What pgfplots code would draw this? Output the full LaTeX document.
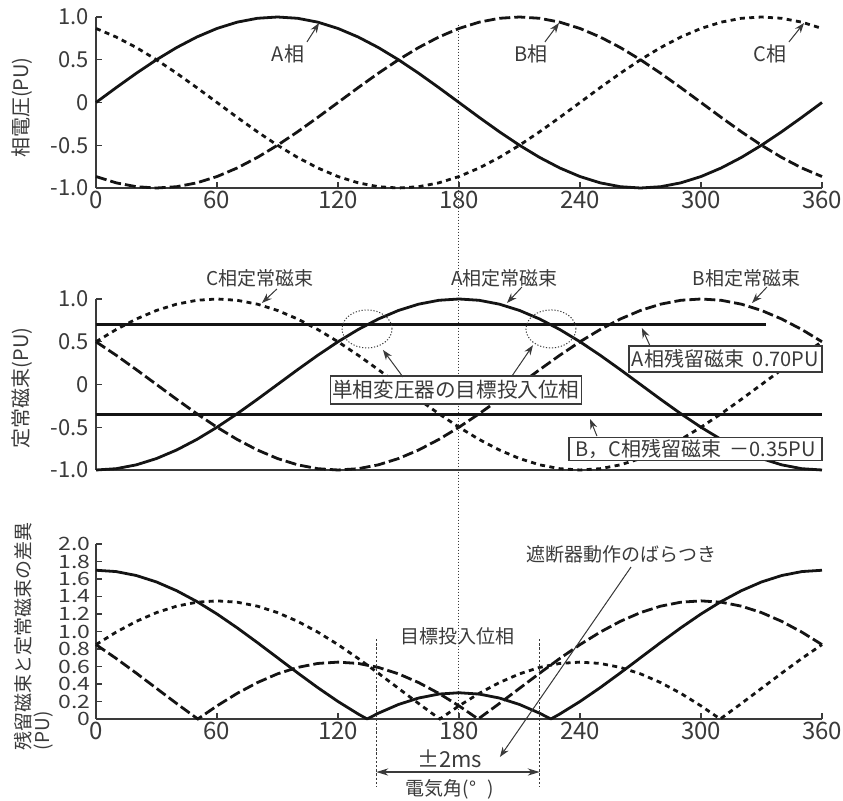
\documentclass[border=0pt]{standalone}
\usepackage{fontspec}
\setmainfont{Noto Sans CJK JP}
\usepackage{pgfplots}
\pgfplotsset{compat=1.18}
\usepackage{pgfplotstable}
\usetikzlibrary{arrows.meta}
\definecolor{txt}{RGB}{58,58,58}
\definecolor{crv}{RGB}{20,20,20}

\pgfplotstableread{
x A B C FA FB FC
0 0 -0.8660 0.8660 -1.0000 0.5000 0.5000
10 0.1736 -0.9397 0.7660 -0.9848 0.3420 0.6428
20 0.3420 -0.9848 0.6428 -0.9397 0.1736 0.7660
30 0.5000 -1.0000 0.5000 -0.8660 0.0000 0.8660
40 0.6428 -0.9848 0.3420 -0.7660 -0.1736 0.9397
50 0.7660 -0.9397 0.1736 -0.6428 -0.3420 0.9848
60 0.8660 -0.8660 0.0000 -0.5000 -0.5000 1.0000
70 0.9397 -0.7660 -0.1736 -0.3420 -0.6428 0.9848
80 0.9848 -0.6428 -0.3420 -0.1736 -0.7660 0.9397
90 1.0000 -0.5000 -0.5000 0.0000 -0.8660 0.8660
100 0.9848 -0.3420 -0.6428 0.1736 -0.9397 0.7660
110 0.9397 -0.1736 -0.7660 0.3420 -0.9848 0.6428
120 0.8660 0.0000 -0.8660 0.5000 -1.0000 0.5000
130 0.7660 0.1736 -0.9397 0.6428 -0.9848 0.3420
140 0.6428 0.3420 -0.9848 0.7660 -0.9397 0.1736
150 0.5000 0.5000 -1.0000 0.8660 -0.8660 0.0000
160 0.3420 0.6428 -0.9848 0.9397 -0.7660 -0.1736
170 0.1736 0.7660 -0.9397 0.9848 -0.6428 -0.3420
180 0.0000 0.8660 -0.8660 1.0000 -0.5000 -0.5000
190 -0.1736 0.9397 -0.7660 0.9848 -0.3420 -0.6428
200 -0.3420 0.9848 -0.6428 0.9397 -0.1736 -0.7660
210 -0.5000 1.0000 -0.5000 0.8660 0.0000 -0.8660
220 -0.6428 0.9848 -0.3420 0.7660 0.1736 -0.9397
230 -0.7660 0.9397 -0.1736 0.6428 0.3420 -0.9848
240 -0.8660 0.8660 0.0000 0.5000 0.5000 -1.0000
250 -0.9397 0.7660 0.1736 0.3420 0.6428 -0.9848
260 -0.9848 0.6428 0.3420 0.1736 0.7660 -0.9397
270 -1.0000 0.5000 0.5000 0.0000 0.8660 -0.8660
280 -0.9848 0.3420 0.6428 -0.1736 0.9397 -0.7660
290 -0.9397 0.1736 0.7660 -0.3420 0.9848 -0.6428
300 -0.8660 0.0000 0.8660 -0.5000 1.0000 -0.5000
310 -0.7660 -0.1736 0.9397 -0.6428 0.9848 -0.3420
320 -0.6428 -0.3420 0.9848 -0.7660 0.9397 -0.1736
330 -0.5000 -0.5000 1.0000 -0.8660 0.8660 0.0000
340 -0.3420 -0.6428 0.9848 -0.9397 0.7660 0.1736
350 -0.1736 -0.7660 0.9397 -0.9848 0.6428 0.3420
360 0.0000 -0.8660 0.8660 -1.0000 0.5000 0.5000
}\wave

\pgfplotstableread{
x y
0 1.7000
10 1.6848
20 1.6397
30 1.5660
40 1.4660
50 1.3428
60 1.2000
70 1.0420
80 0.8736
90 0.7000
100 0.5264
110 0.3580
120 0.2000
130 0.0572
134.43 0
140 0.0660
150 0.1660
160 0.2397
170 0.2848
180 0.3000
190 0.2848
200 0.2397
210 0.1660
220 0.0660
225.57 0
230 0.0572
240 0.2000
250 0.3580
260 0.5264
270 0.7000
280 0.8736
290 1.0420
300 1.2000
310 1.3428
320 1.4660
330 1.5660
340 1.6397
350 1.6848
360 1.7000
}\diffA

\pgfplotstableread{
x y
0 0.8500
10 0.6920
20 0.5236
30 0.3500
40 0.1764
50 0.0080
50.49 0
60 0.1500
70 0.2928
80 0.4160
90 0.5160
100 0.5897
110 0.6348
120 0.6500
130 0.6348
140 0.5897
150 0.5160
160 0.4160
170 0.2928
180 0.1500
189.51 0
190 0.0080
200 0.1764
210 0.3500
220 0.5236
230 0.6920
240 0.8500
250 0.9928
260 1.1160
270 1.2160
280 1.2897
290 1.3348
300 1.3500
310 1.3348
320 1.2897
330 1.2160
340 1.1160
350 0.9928
360 0.8500
}\diffB

\pgfplotstableread{
x y
0 0.8500
10 0.9928
20 1.1160
30 1.2160
40 1.2897
50 1.3348
60 1.3500
70 1.3348
80 1.2897
90 1.2160
100 1.1160
110 0.9928
120 0.8500
130 0.6920
140 0.5236
150 0.3500
160 0.1764
170 0.0080
170.49 0
180 0.1500
190 0.2928
200 0.4160
210 0.5160
220 0.5897
230 0.6348
240 0.6500
250 0.6348
260 0.5897
270 0.5160
280 0.4160
290 0.2928
300 0.1500
309.51 0
310 0.0080
320 0.1764
330 0.3500
340 0.5236
350 0.6920
360 0.8500
}\diffC

\tikzset{
  ann/.style={-{Stealth[length=5pt,width=3.6pt]}, line width=0.5pt, draw=txt, fill=txt},
  lA/.style={crv, line width=1.4pt, line join=round},
  lB/.style={crv, line width=1.4pt, dash pattern=on 5.5pt off 2pt},
  lC/.style={crv, line width=1.4pt, dash pattern=on 2.5pt off 2.2pt},
  lbl/.style={text=txt, font=\fontsize{10}{12}\selectfont, inner sep=1pt},
  box/.style={draw=txt, line width=0.6pt, fill=white, text=txt, inner sep=1pt, font=\fontsize{10}{12}\selectfont},
}
\pgfplotsset{
  panel/.style={
    scale only axis, width=363pt, xmin=0, xmax=360,
    axis lines*=left, axis line style={txt, line width=0.6pt, -},
    tick align=inside, major tick length=3pt,
    tick style={txt, line width=0.6pt},
    xtick={0,60,120,180,240,300,360},
    xticklabels={0,60,120,180,240,300,360},
    xticklabel style={text=txt, font=\fontsize{12}{12}\selectfont, yshift=2pt},
    yticklabel style={text=txt, font=\fontsize{11}{11}\selectfont},
    clip=false,
    ylabel style={text=txt, font=\fontsize{10}{12}\selectfont, anchor=center},
  },
}

\begin{document}
\begin{tikzpicture}
\path[use as bounding box] (0,0) rectangle (421.5pt,-400.5pt);

% ---------- top panel ----------
\begin{axis}[panel, at={(48pt,-94pt)}, anchor=south west, height=85.5pt,
  ymin=-1, ymax=1,
  ytick={-1,-0.5,0,0.5,1}, yticklabels={-1.0,-0.5,0,0.5,1.0},
  ylabel={相電圧(PU)},
  ylabel style={at={(rel axis cs:-0.102,0.47)}},
]
\draw[txt, line width=0.5pt, dash pattern=on 0.6pt off 0.9pt] (axis cs:180,0.91) -- (axis cs:180,-7.21);
\addplot[lA] table[x=x,y=A] {\wave};
\addplot[lB] table[x=x,y=B] {\wave};
\addplot[lC] table[x=x,y=C] {\wave};
\node[lbl] at (axis cs:95.2,0.567) {A相};
\node[lbl] at (axis cs:215.7,0.567) {B相};
\node[lbl] at (axis cs:334.2,0.567) {C相};
\draw[ann] (axis cs:104.6,0.708) -- (axis cs:110.6,0.930);
\draw[ann] (axis cs:222.6,0.708) -- (axis cs:229.6,0.930);
\draw[ann] (axis cs:343.6,0.708) -- (axis cs:351.1,0.930);
\end{axis}

% ---------- middle panel ----------
\begin{axis}[panel, at={(48pt,-235pt)}, anchor=south west, height=85.5pt,
  ymin=-1, ymax=1, xtick=\empty,
  ytick={-1,-0.5,0,0.5,1}, yticklabels={-1.0,-0.5,0,0.5,1.0},
  ylabel={定常磁束(PU)},
  ylabel style={at={(rel axis cs:-0.102,0.48)}},
]
\addplot[lA] coordinates {(0,0.7) (332,0.7)};
\addplot[lA] coordinates {(0,-0.35) (360,-0.35)};
\addplot[lA] table[x=x,y=FA] {\wave};
\addplot[lB] table[x=x,y=FB] {\wave};
\addplot[lC] table[x=x,y=FC] {\wave};
\node[lbl, font=\fontsize{9.5}{12}\selectfont] at (axis cs:81.3,1.246) {C相定常磁束};
\node[lbl, font=\fontsize{9.5}{12}\selectfont] at (axis cs:202.6,1.246) {A相定常磁束};
\node[lbl, font=\fontsize{9.5}{12}\selectfont] at (axis cs:322.6,1.246) {B相定常磁束};
\draw[ann] (axis cs:89.7,1.117) -- (axis cs:82.3,0.953);
\draw[ann] (axis cs:211.2,1.14) -- (axis cs:203.8,0.953);
\draw[ann] (axis cs:332.7,1.14) -- (axis cs:325.3,0.953);
\draw[txt, line width=0.5pt, dash pattern=on 0.6pt off 0.9pt] (axis cs:134.4,0.65) ellipse [x radius=12.5pt, y radius=9.5pt];
\draw[txt, line width=0.5pt, dash pattern=on 0.6pt off 0.9pt] (axis cs:225.6,0.65) ellipse [x radius=12.5pt, y radius=9.5pt];
\node[box, minimum width=119pt, minimum height=14pt, font=\fontsize{10.3}{12}\selectfont] at (axis cs:178.5,-0.064) {単相変圧器の目標投入位相};
\node[box, minimum width=96.5pt, minimum height=13pt] at (axis cs:312.1,0.298) {A相残留磁束\hspace{0.45em}0.70PU};
\node[box, minimum width=126.5pt, minimum height=11pt] at (axis cs:297.3,-0.754) {B，C相残留磁束\hspace{0.4em}－0.35PU};
\draw[ann] (axis cs:152.2,0.088) -- (axis cs:142.3,0.404);
\draw[ann] (axis cs:206.3,0.1) -- (axis cs:216.7,0.46);
\draw[ann] (axis cs:274.7,0.453) -- (axis cs:270.7,0.661);
\draw[ann] (axis cs:248.4,-0.603) -- (axis cs:245,-0.404);
\end{axis}

% ---------- bottom panel ----------
\begin{axis}[panel, at={(48pt,-359.5pt)}, anchor=south west, height=87.5pt,
  ymin=0, ymax=2,
  ytick={0,0.2,0.4,0.6,0.8,1,1.2,1.4,1.6,1.8,2},
  yticklabels={0,0.2,0.4,0.6,0.8,1.0,1.2,1.4,1.6,1.8,2.0},
  yticklabel style={font=\fontsize{11.5}{11.5}\selectfont, yscale=0.8, inner xsep=2.5pt},
  ylabel={残留磁束と定常磁束の差異\\(PU)},
  ylabel style={align=left, at={(rel axis cs:-0.0854,0.474)}, font=\fontsize{9.5}{8.5}\selectfont},
]
\addplot[lA] table[x=x,y=y] {\diffA};
\addplot[lB] table[x=x,y=y] {\diffB};
\addplot[lC] table[x=x,y=y] {\diffC};
\draw[txt, line width=0.5pt, dash pattern=on 1.2pt off 0.9pt] (axis cs:139,0.914) -- (axis cs:139,-0.777);
\draw[txt, line width=0.5pt, dash pattern=on 1.2pt off 0.9pt] (axis cs:220,0.914) -- (axis cs:220,-0.777);
\draw[txt, fill=txt, line width=0.6pt, {Stealth[length=6pt,width=3.6pt]}-{Stealth[length=6pt,width=3.6pt]}] (axis cs:139,-0.606) -- (axis cs:220,-0.606);
\node[lbl, font=\fontsize{9.5}{12}\selectfont] at (axis cs:179.5,0.949) {目標投入位相};
\node[lbl, font=\fontsize{11}{12}\selectfont] at (axis cs:175.3,-0.451) {±2ms};
\node[lbl, font=\fontsize{9.5}{12}\selectfont] at (axis cs:175.5,-0.806) {電気角(°\hspace{0.6em})};
\node[lbl, font=\fontsize{9.5}{12}\selectfont] at (axis cs:260.6,1.88) {遮断器動作のばらつき};
\draw[ann] (axis cs:265.3,1.737) -- (axis cs:200.3,-0.434);
\end{axis}
\end{tikzpicture}
\end{document}
